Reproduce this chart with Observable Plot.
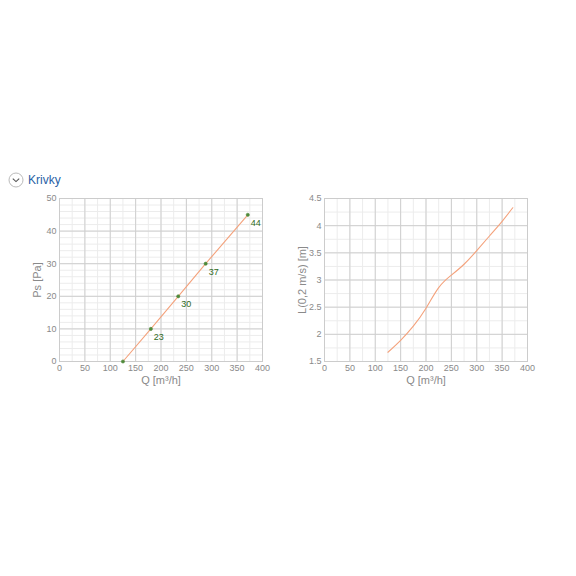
<!DOCTYPE html>
<html>
<head>
<meta charset="utf-8">
<script src="https://cdn.jsdelivr.net/npm/d3@7"></script>
<script src="https://cdn.jsdelivr.net/npm/@observablehq/plot@0.6"></script>
<style>
  html, body { margin: 0; padding: 0; background: #fff; width: 576px; height: 576px; overflow: hidden; font-family: "Liberation Sans", Arial, sans-serif; }
  #header { position: absolute; left: 8px; top: 172px; display: flex; align-items: center; }
  #header .title { color: #2b5fa6; font-size: 12px; margin-left: 4px; }
  #left { position: absolute; left: 0; top: 190px; }
  #right { position: absolute; left: 265px; top: 190px; }
</style>
</head>
<body>
<div id="header">
  <svg width="16" height="16" viewBox="0 0 16 16"><circle cx="8" cy="8" r="7" fill="none" stroke="#bbb" stroke-width="1"/><path d="M4.8 6.6 L8 9.6 L11.2 6.6" fill="none" stroke="#555" stroke-width="1.1"/></svg>
  <span class="title">Krivky</span>
</div>
<div id="left"></div>
<div id="right"></div>
<script>
// Left chart: static pressure vs flow
const qPs = [125, 180, 234, 288, 371];
const ps = [0, 10, 20, 30, 45];
const psLabels = [null, "23", "30", "37", "44"];

// Right chart: throw length L(0,2 m/s) vs flow
const qL = [125, 150, 175, 200, 225, 250, 275, 300, 325, 350, 371];
const lVals = [1.67, 1.89, 2.15, 2.48, 2.86, 3.09, 3.29, 3.54, 3.81, 4.08, 4.33];

const xTicks = [0, 50, 100, 150, 200, 250, 300, 350, 400];
const psTicks = [0, 10, 20, 30, 40, 50];
const lTicks = [1.5, 2, 2.5, 3, 3.5, 4, 4.5];

const ptsPs = qPs.map((q, i) => ({q, v: ps[i], label: psLabels[i]}));
const ptsL = qL.map((q, i) => ({q, v: lVals[i]}));

const lineColor = "#f4a27c";
const gridMinor = "#ececec";
const gridMajor = "#cfcfcf";
const tickColor = "#8a8a8a";

function chart(opts) {
  return Plot.plot({
    width: opts.width,
    height: 210,
    marginLeft: opts.marginLeft,
    marginRight: opts.marginRight,
    marginTop: 8,
    marginBottom: 39,
    style: {fontFamily: "'Liberation Sans', Arial, sans-serif", background: "transparent"},
    x: {domain: [0, 400]},
    y: {domain: opts.yDomain},
    marks: [
      Plot.gridX(d3.range(0, 401, 25), {stroke: gridMinor, strokeOpacity: 1}),
      Plot.gridY(opts.yMinor, {stroke: gridMinor, strokeOpacity: 1}),
      Plot.gridX(xTicks, {stroke: gridMajor, strokeOpacity: 1}),
      Plot.gridY(opts.yTicks, {stroke: gridMajor, strokeOpacity: 1}),
      Plot.frame({stroke: "#cccccc"}),
      Plot.axisX(xTicks, {tickSize: 0, tickPadding: 3, fontSize: 9, fill: tickColor, label: "Q [m³/h]", labelAnchor: "center", labelArrow: "none", labelOffset: 22}),
      Plot.axisY(opts.yTicks, {tickSize: 0, tickPadding: 3, fontSize: 9, fill: tickColor, tickFormat: d3.format("~g"), label: opts.yLabel, labelAnchor: "center", labelArrow: "none", labelOffset: opts.labelOffset}),
      ...opts.marks
    ]
  });
}

const left = chart({
  width: 288, marginLeft: 59, marginRight: 26,
  yDomain: [0, 50], yTicks: psTicks, yMinor: d3.range(0, 51, 2),
  yLabel: "Ps [Pa]", labelOffset: 26,
  marks: [
    Plot.line(ptsPs, {x: "q", y: "v", stroke: lineColor, strokeWidth: 1.1}),
    Plot.dot(ptsPs, {x: "q", y: "v", r: 1.6, fill: "#4f8a3a", stroke: "#4f8a3a", strokeWidth: 0.6}),
    Plot.text(ptsPs.filter(d => d.label), {x: "q", y: "v", text: "label", dx: 3, dy: 8, textAnchor: "start", fontSize: 9, fill: "#2f6b22"})
  ]
});
document.getElementById("left").append(left);

const right = chart({
  width: 288, marginLeft: 59, marginRight: 26,
  yDomain: [1.5, 4.5], yTicks: lTicks, yMinor: d3.range(1.5, 4.51, 0.25),
  yLabel: "L(0,2 m/s) [m]", labelOffset: 26,
  marks: [
    Plot.line(ptsL, {x: "q", y: "v", stroke: lineColor, strokeWidth: 1.1, curve: "natural"})
  ]
});
document.getElementById("right").append(right);

// axis label styling
document.querySelectorAll("g[aria-label='x-axis label'] text, g[aria-label='y-axis label'] text").forEach(t => {
  t.setAttribute("font-size", "11");
  t.setAttribute("fill", "#8a8a8a");
});
</script>
</body>
</html>
